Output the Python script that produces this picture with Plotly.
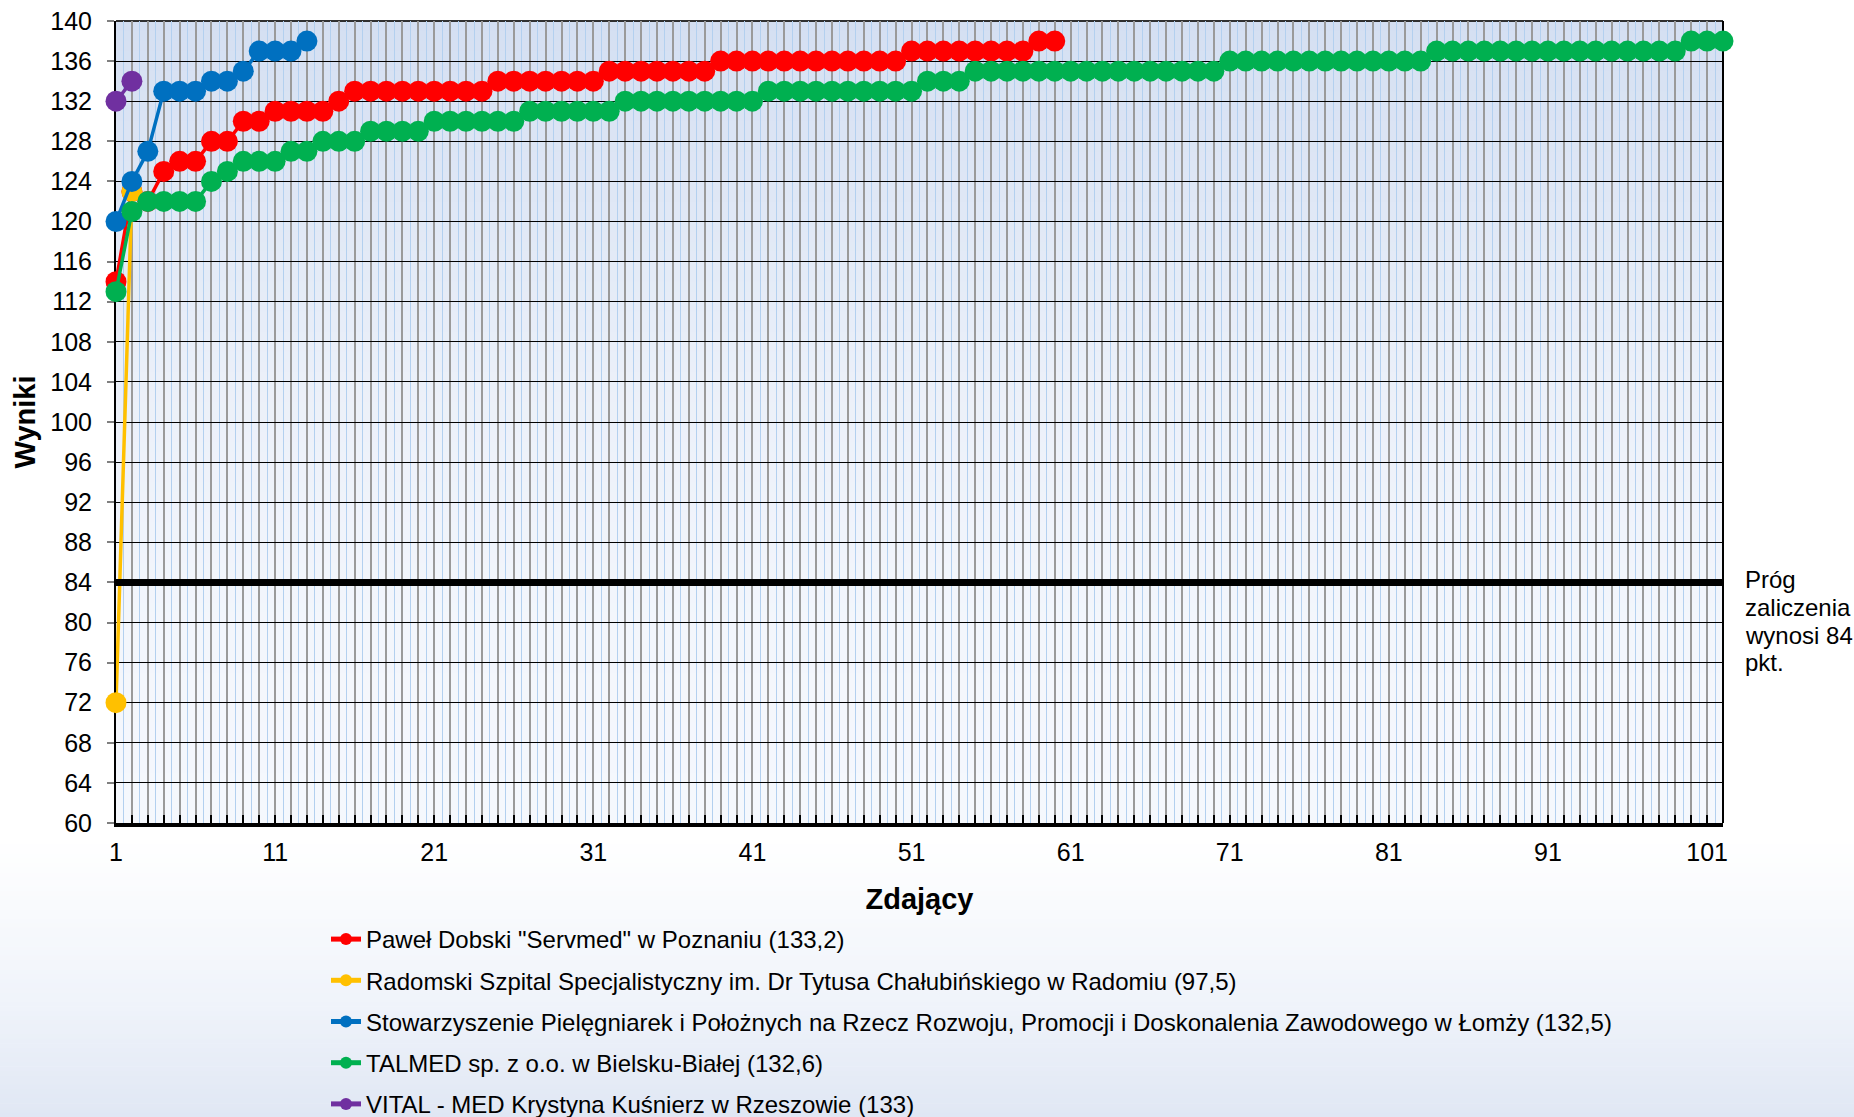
import plotly.graph_objects as go

# ---------------- data ----------------
series_names = [
    'Paweł Dobski "Servmed" w Poznaniu (133,2)',
    'Radomski Szpital Specjalistyczny im. Dr Tytusa Chałubińskiego w Radomiu (97,5)',
    'Stowarzyszenie Pielęgniarek i Położnych na Rzecz Rozwoju, Promocji i Doskonalenia Zawodowego w Łomży (132,5)',
    'TALMED sp. z o.o. w Bielsku-Białej (132,6)',
    'VITAL - MED Krystyna Kuśnierz w Rzeszowie (133)',
]

servmed = [
    114, 123, 122, 125, 126, 126, 128, 128, 130, 130,
    131, 131, 131, 131, 132, 133, 133, 133, 133, 133,
    133, 133, 133, 133, 134, 134, 134, 134, 134, 134,
    134, 135, 135, 135, 135, 135, 135, 135, 136, 136,
    136, 136, 136, 136, 136, 136, 136, 136, 136, 136,
    137, 137, 137, 137, 137, 137, 137, 137, 138, 138,
]
radom = [72, 123]
lomza = [120, 124, 127, 133, 133, 133, 134, 134, 135, 137, 137, 137, 138]
talmed = [
    113, 121, 122, 122, 122, 122, 124, 125, 126, 126,
    126, 127, 127, 128, 128, 128, 129, 129, 129, 129,
    130, 130, 130, 130, 130, 130, 131, 131, 131, 131,
    131, 131, 132, 132, 132, 132, 132, 132, 132, 132,
    132, 133, 133, 133, 133, 133, 133, 133, 133, 133,
    133, 134, 134, 134, 135, 135, 135, 135, 135, 135,
    135, 135, 135, 135, 135, 135, 135, 135, 135, 135,
    136, 136, 136, 136, 136, 136, 136, 136, 136, 136,
    136, 136, 136, 137, 137, 137, 137, 137, 137, 137,
    137, 137, 137, 137, 137, 137, 137, 137, 137, 138,
    138, 138,
]
vital = [132, 134]

series_values = [servmed, radom, lomza, talmed, vital]
series_colors = ["#FF0000", "#FFC000", "#0070C0", "#00B050", "#7030A0"]

threshold = 84
threshold_text = ["Próg", "zaliczenia", "wynosi 84", "pkt."]
x_tick_labels = ["1", "11", "21", "31", "41", "51", "61", "71", "81", "91", "101"]
y_ticks = list(range(60, 141, 4))
x_title = "Zdający"
y_title = "Wyniki"

# ---------------- layout geometry ----------------
W, H = 1854, 1117
ML, MR, MT, MB = 116, 131, 21, 294
PW, PH = W - ML - MR, H - MT - MB
FONT = "Arial, 'Liberation Sans', sans-serif"


def px_to_paper_x(px):
    return (px - ML) / PW


def px_to_paper_y(py):
    return (H - MB - py) / PH


def lerp_color(stops, t):
    for (t0, c0), (t1, c1) in zip(stops[:-1], stops[1:]):
        if t0 <= t <= t1:
            f = 0 if t1 == t0 else (t - t0) / (t1 - t0)
            c = [round(a + (b - a) * f) for a, b in zip(c0, c1)]
            return "rgb(%d,%d,%d)" % tuple(c)
    c = stops[-1][1]
    return "rgb(%d,%d,%d)" % tuple(c)


shapes = []
# paper gradient (bottom part of the figure)
paper_stops = [(0.0, (255, 255, 255)), (0.6, (239, 243, 250)), (1.0, (224, 231, 244))]
g_top, g_bot = 840, H
n = 60
for i in range(n):
    y0 = g_top + (g_bot - g_top) * i / n
    y1 = g_top + (g_bot - g_top) * (i + 1) / n
    shapes.append(dict(type="rect", xref="paper", yref="paper",
                       x0=px_to_paper_x(-2), x1=px_to_paper_x(W + 2),
                       y0=px_to_paper_y(y1 + 0.6), y1=px_to_paper_y(y0),
                       fillcolor=lerp_color(paper_stops, (i + 0.5) / n),
                       line=dict(width=0), layer="below"))

# plot-area gradient
plot_stops = [(0.0, (212, 223, 242)), (0.45, (235, 240, 249)), (0.75, (243, 246, 252)), (1.0, (245, 248, 253))]
n = 80
for i in range(n):
    t0 = i / n
    t1 = (i + 1) / n
    shapes.append(dict(type="rect", xref="x domain", yref="y domain",
                       x0=0, x1=1, y0=1 - t1 - 0.002, y1=1 - t0,
                       fillcolor=lerp_color(plot_stops, (t0 + t1) / 2),
                       line=dict(width=0), layer="below"))

# top / right border
shapes.append(dict(type="line", xref="x domain", yref="y domain", x0=0, x1=1, y0=1, y1=1,
                   line=dict(color="#303030", width=2), layer="below"))
shapes.append(dict(type="line", xref="x domain", yref="y domain", x0=1, x1=1, y0=0, y1=1,
                   line=dict(color="#000000", width=2), layer="below"))

fig = go.Figure()

for i, (name, vals, col) in enumerate(zip(series_names, series_values, series_colors)):
    xs = list(range(1, len(vals) + 1))
    fig.add_trace(go.Scatter(
        x=xs, y=vals, name=name, mode="lines+markers",
        line=dict(color=col, width=3.5),
        marker=dict(color=col, size=21),
        cliponaxis=False, legendgroup="g%d" % i,
    ))

n_max = max(len(v) for v in series_values)
fig.add_trace(go.Scatter(
    x=[1, n_max], y=[threshold, threshold], mode="lines",
    line=dict(color="black", width=7), showlegend=False, hoverinfo="skip",
    cliponaxis=False,
))

all_x = list(range(1, n_max + 1))
tick_text = [str(v) if str(v) in x_tick_labels else "" for v in all_x]
half_x = [v + 0.5 for v in range(1, n_max)]

fig.update_layout(
    width=W, height=H,
    margin=dict(l=ML, r=MR, t=MT, b=MB, autoexpand=False),
    paper_bgcolor="white",
    plot_bgcolor="rgba(0,0,0,0)",
    font=dict(family=FONT, color="black", size=24),
    shapes=shapes,
    showlegend=True,
    legend=dict(
        x=px_to_paper_x(326), y=px_to_paper_y(917), xanchor="left", yanchor="top",
        orientation="v", bgcolor="rgba(0,0,0,0)",
        font=dict(family=FONT, size=24, color="black"),
        tracegroupgap=7, itemsizing="constant",
    ),
    xaxis=dict(
        range=[1, n_max], tickmode="array", tickvals=all_x, ticktext=tick_text,
        showgrid=True, gridcolor="#9a9a9a", gridwidth=2,
        minor=dict(tickmode="array", tickvals=half_x, showgrid=True,
                   gridcolor="#b3d0ef", gridwidth=1, ticks=""),
        ticks="inside", ticklen=8, tickwidth=2, tickcolor="black",
        showline=True, linecolor="black", linewidth=4,
        tickfont=dict(family=FONT, size=25), ticklabelstandoff=4,
        title=dict(text="<b>%s</b>" % x_title, font=dict(family=FONT, size=29), standoff=25),
        zeroline=False, layer="below traces",
    ),
    yaxis=dict(
        range=[60, 140], tickmode="array", tickvals=y_ticks,
        showgrid=True, gridcolor="black", gridwidth=1,
        ticks="outside", ticklen=7, tickwidth=2, tickcolor="#808080",
        showline=True, linecolor="black", linewidth=2,
        tickfont=dict(family=FONT, size=25), ticklabelstandoff=10,
        title=dict(text="<b>%s</b>" % y_title, font=dict(family=FONT, size=29), standoff=6),
        zeroline=False, layer="below traces",
    ),
)
try:
    fig.update_layout(legend_maxheight=2000)
except Exception:
    pass

label_rows_px = [579, 607, 635, 662]
for txt, py in zip(threshold_text, label_rows_px):
    fig.add_annotation(
        text=txt, xref="paper", yref="paper",
        x=px_to_paper_x(1743), y=px_to_paper_y(py),
        xanchor="left", yanchor="middle", showarrow=False,
        font=dict(family=FONT, size=24, color="black"),
    )

fig.write_html("out.html", config={"displayModeBar": False},
               post_script="document.body.style.margin='0px';")
